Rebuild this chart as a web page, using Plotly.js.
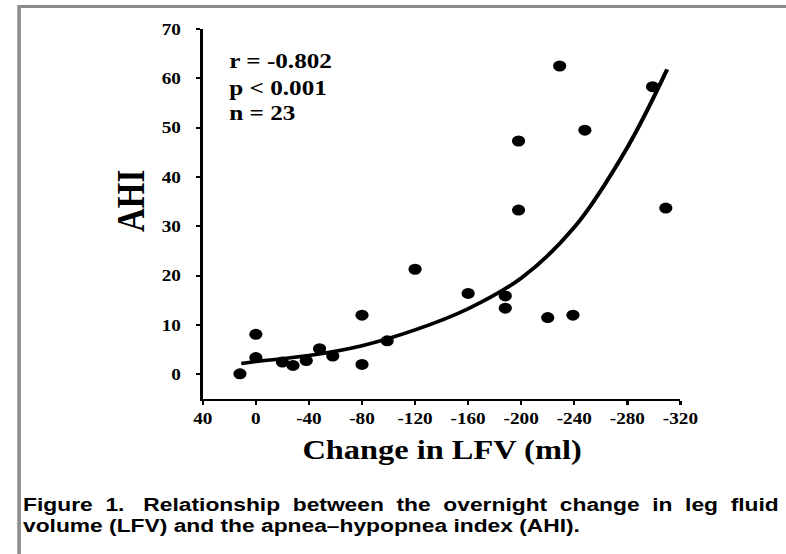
<!DOCTYPE html>
<html>
<head>
<meta charset="utf-8">
<script src="https://cdn.plot.ly/plotly-3.0.1.min.js"></script>
<style>
html,body{margin:0;padding:0;background:#fff;overflow:hidden;}
/* the reference figure is a horizontally stretched scan: draw at 655px wide and stretch by 1.2 */
#chart{width:655px;height:554px;transform:scaleX(1.2);transform-origin:0 0;}
</style>
</head>
<body>
<div id="chart"></div>
<script>
// Data
const lfvChange = [12, 0, 0, -20, -28, -38, -48, -58, -80, -80, -99, -120, -160, -188, -188, -198, -198, -220, -229, -239, -248, -299, -309];
const ahi       = [0.1, 8.1, 3.4, 2.5, 1.8, 2.8, 5.2, 3.7, 12, 2, 6.8, 21.3, 16.4, 15.9, 13.4, 47.3, 33.3, 11.5, 62.5, 12, 49.5, 58.3, 33.7];
// Fitted curve, as traced in the picture
const curveX = [11, 0, -40, -80, -120, -160, -200, -240, -280, -310];
const curveY = [2.2, 2.6, 3.8, 5.8, 9.0, 13.3, 19.5, 29.8, 46, 61.8];
// Axis ticks
const xTickVals = [40, 0, -40, -80, -120, -160, -200, -240, -280, -320];
const xTickText = ["40", "0", "-40", "-80", "-120", "-160", "-200", "-240", "-280", "-320"];
const yTickVals = [0, 10, 20, 30, 40, 50, 60, 70];
const statsText = ["r = -0.802", "p < 0.001", "n = 23"];
const statsY = [63.5, 58.1, 53.0];
const captionLines = [
  "Figure\u00A0 1.\u00A0\u00A0 Relationship\u00A0 between\u00A0 the\u00A0 overnight\u00A0 change\u00A0 in\u00A0 leg\u00A0 fluid",
  "volume (LFV) and the apnea\u2013hypopnea index (AHI)."
];

const serif = "Liberation Serif, Times New Roman, serif";
const sans = "Liberation Sans, Arial, sans-serif";

const traces = [
  {
    x: curveX, y: curveY, type: "scatter", mode: "lines",
    line: {color: "#000", width: 3.5, shape: "spline", smoothing: 1},
    hoverinfo: "skip", showlegend: false
  },
  {
    x: lfvChange, y: ahi, type: "scatter", mode: "markers",
    marker: {color: "#000", size: 11, symbol: "circle"},
    showlegend: false
  }
];

const annotations = [];
statsText.forEach((t, i) => {
  annotations.push({
    x: 22, y: statsY[i], xref: "x", yref: "y", xanchor: "left", yanchor: "middle",
    text: "<b>" + t + "</b>", showarrow: false,
    font: {family: serif, size: 21, color: "#000"}
  });
});
annotations.push({
  x: -0.151, y: 0.535, xref: "paper", yref: "paper", xanchor: "center", yanchor: "middle",
  text: "<b>AHI</b>", textangle: -90, showarrow: false,
  font: {family: serif, size: 33, color: "#000"}
});
annotations.push({
  x: 0.5, y: -0.138, xref: "paper", yref: "paper", xanchor: "center", yanchor: "middle",
  text: "<b>Change in LFV (ml)</b>", showarrow: false,
  font: {family: serif, size: 27, color: "#000"}
});
captionLines.forEach((t, i) => {
  annotations.push({
    x: -0.3816, y: [-0.2838, -0.3432][i], xref: "paper", yref: "paper",
    xanchor: "left", yanchor: "middle",
    text: "<b>" + t + "</b>", showarrow: false,
    font: {family: sans, size: 19, color: "#000"}
  });
});

const layout = {
  width: 655, height: 554,
  margin: {l: 169, r: 88, t: 29, b: 155},
  paper_bgcolor: "#fff", plot_bgcolor: "#fff",
  showlegend: false,
  xaxis: {
    range: [40, -320], autorange: false,
    tickvals: xTickVals, ticktext: xTickText,
    showgrid: false, zeroline: false,
    showline: true, linecolor: "#000", linewidth: 2,
    ticks: "outside", ticklen: 4, tickwidth: 2, tickcolor: "#000",
    tickfont: {family: serif, size: 16, color: "#000", weight: "bold"},
    ticklabelstandoff: 0
  },
  yaxis: {
    range: [-5, 70], autorange: false,
    tickvals: yTickVals,
    showgrid: false, zeroline: false,
    showline: true, linecolor: "#000", linewidth: 2,
    ticks: "outside", ticklen: 4, tickwidth: 2, tickcolor: "#000",
    tickfont: {family: serif, size: 16, color: "#000", weight: "bold"},
    ticklabelstandoff: 9
  },
  shapes: [{
    type: "rect", xref: "paper", yref: "paper",
    x0: -0.3847, x1: 1.5, y0: -1.2, y1: 1.0608,
    line: {color: "#8c8c8c", width: 3}, fillcolor: "rgba(0,0,0,0)", layer: "below"
  }],
  annotations: annotations
};

Plotly.newPlot("chart", traces, layout, {displayModeBar: false, staticPlot: true});
</script>
</body>
</html>
